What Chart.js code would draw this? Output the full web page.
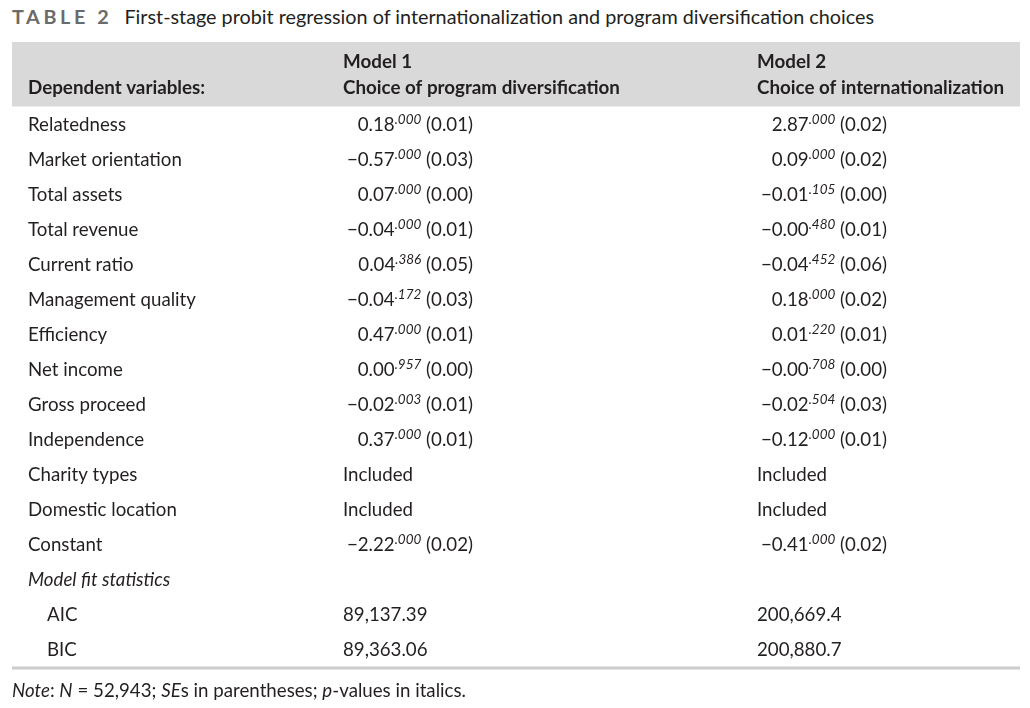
<!DOCTYPE html>
<html>
<head>
<meta charset="utf-8">
<script src="https://cdn.jsdelivr.net/npm/chart.js@4/dist/chart.umd.min.js"></script>
<style>
  body { margin: 0; background: #fff; }
  #wrap { position: relative; width: 1030px; height: 708px; font-family: Lato, sans-serif; color: #231f20; }
  #title { position: absolute; left: 12px; top: 4px; font-size: 19.8px; white-space: nowrap; }
  #title b { color: #6b6b6b; letter-spacing: 3.6px; margin-right: 7px; }
  #note { position: absolute; left: 12px; top: 679px; font-size: 18.7px; white-space: nowrap; }
  canvas { position: absolute; left: 0; top: 0; }
</style>
</head>
<body>
<div id="wrap">
  <div id="title"><b>TABLE 2</b> First-stage probit regression of internationalization and program diversification choices</div>
  <canvas id="tableChart" width="1030" height="708"></canvas>
  <div id="note"><i>Note</i>: <i>N</i> = 52,943; <i>SE</i>s in parentheses; <i>p</i>-values in italics.</div>
</div>
<script>
// rows of the table (top to bottom)
const rowLabels = ['Relatedness', 'Market orientation', 'Total assets', 'Total revenue', 'Current ratio',
  'Management quality', 'Efficiency', 'Net income', 'Gross proceed', 'Independence',
  'Charity types', 'Domestic location', 'Constant', 'Model fit statistics', 'AIC', 'BIC'];

const headerModels = ['Model 1', 'Model 2'];
const headerChoices = ['Choice of program diversification', 'Choice of internationalization'];

// Model 1: coefficient, p-value, standard error
const m1Coef = ['0.18', '-0.57', '0.07', '-0.04', '0.04', '-0.04', '0.47', '0.00', '-0.02', '0.37', 'Included', 'Included', '-2.22', '', '89,137.39', '89,363.06'];
const m1P = ['.000', '.000', '.000', '.000', '.386', '.172', '.000', '.957', '.003', '.000', null, null, '.000', null, null, null];
const m1SE = ['0.01', '0.03', '0.00', '0.01', '0.05', '0.03', '0.01', '0.00', '0.01', '0.01', null, null, '0.02', null, null, null];

// Model 2
const m2Coef = ['2.87', '0.09', '-0.01', '-0.00', '-0.04', '0.18', '0.01', '-0.00', '-0.02', '-0.12', 'Included', 'Included', '-0.41', '', '200,669.4', '200,880.7'];
const m2P = ['.000', '.000', '.105', '.480', '.452', '.000', '.220', '.708', '.504', '.000', null, null, '.000', null, null, null];
const m2SE = ['0.02', '0.02', '0.00', '0.01', '0.06', '0.02', '0.01', '0.00', '0.03', '0.01', null, null, '0.02', null, null, null];

const italicRows = ['Model fit statistics'];
const indentRows = ['AIC', 'BIC'];

const FONT = 'Lato, sans-serif';
const BODY = '18.7px ';
const SUP = 'italic 13.5px ';
const textColor = '#231f20';

// column positions relative to chart area left
const cols = [
  { left: 331, right: 461, coef: m1Coef, p: m1P, se: m1SE },
  { left: 745, right: 875, coef: m2Coef, p: m2P, se: m2SE }
];

function minus(s) { return s.replace('-', '\u2212'); }

const tablePlugin = {
  id: 'tableText',
  beforeDraw(chart) {
    const { ctx, chartArea: a } = chart;
    ctx.save();
    // header band
    ctx.fillStyle = '#d9d9d9';
    ctx.fillRect(a.left, 42, a.right - a.left, a.top - 42);
    // bottom rule
    ctx.fillStyle = '#cccccc';
    ctx.fillRect(a.left, a.bottom, a.right - a.left, 3);

    ctx.fillStyle = textColor;
    ctx.textBaseline = 'alphabetic';
    ctx.font = 'bold 18.8px ' + FONT;
    ctx.fillText('Dependent variables:', a.left + 16, 94);
    cols.forEach((c, i) => {
      ctx.fillText(headerModels[i], a.left + c.left, 68);
      ctx.fillText(headerChoices[i], a.left + c.left, 94);
    });
    ctx.restore();
  },
  afterDraw(chart) {
    const { ctx, chartArea: a } = chart;
    const y = chart.scales.y;
    ctx.save();
    ctx.fillStyle = textColor;
    ctx.textBaseline = 'alphabetic';
    rowLabels.forEach((lab, i) => {
      const base = y.getPixelForValue(i) + 7;
      ctx.textAlign = 'left';
      ctx.font = (italicRows.includes(lab) ? 'italic ' : '') + BODY + FONT;
      ctx.fillText(lab, a.left + (indentRows.includes(lab) ? 35 : 16), base);

      cols.forEach(c => {
        const coef = c.coef[i];
        if (!coef) return;
        if (c.p[i] == null) {
          ctx.font = BODY + FONT;
          ctx.fillText(coef, a.left + c.left, base);
          return;
        }
        const main = minus(coef);
        const tail = ' (' + c.se[i] + ')';
        ctx.font = BODY + FONT;
        const wMain = ctx.measureText(main).width;
        const wTail = ctx.measureText(tail).width;
        ctx.font = SUP + FONT;
        const wSup = ctx.measureText(c.p[i]).width;
        let x = a.left + c.right - (wMain + wSup + wTail);
        ctx.font = BODY + FONT;
        ctx.fillText(main, x, base);
        x += wMain;
        ctx.font = SUP + FONT;
        ctx.fillText(c.p[i], x, base - 7.5);
        x += wSup;
        ctx.font = BODY + FONT;
        ctx.fillText(tail, x, base);
      });
    });
    ctx.restore();
  }
};

new Chart(document.getElementById('tableChart'), {
  type: 'bar',
  data: {
    labels: rowLabels,
    datasets: [{ data: [] }]
  },
  options: {
    indexAxis: 'y',
    responsive: false,
    animation: false,
    events: [],
    layout: { padding: { top: 106.5, bottom: 41.5, left: 12, right: 10 } },
    scales: {
      y: { type: 'category', display: false, offset: true },
      x: { type: 'linear', display: false, min: 0, max: 1 }
    },
    plugins: { legend: { display: false }, tooltip: { enabled: false } }
  },
  plugins: [tablePlugin]
});
</script>
</body>
</html>
